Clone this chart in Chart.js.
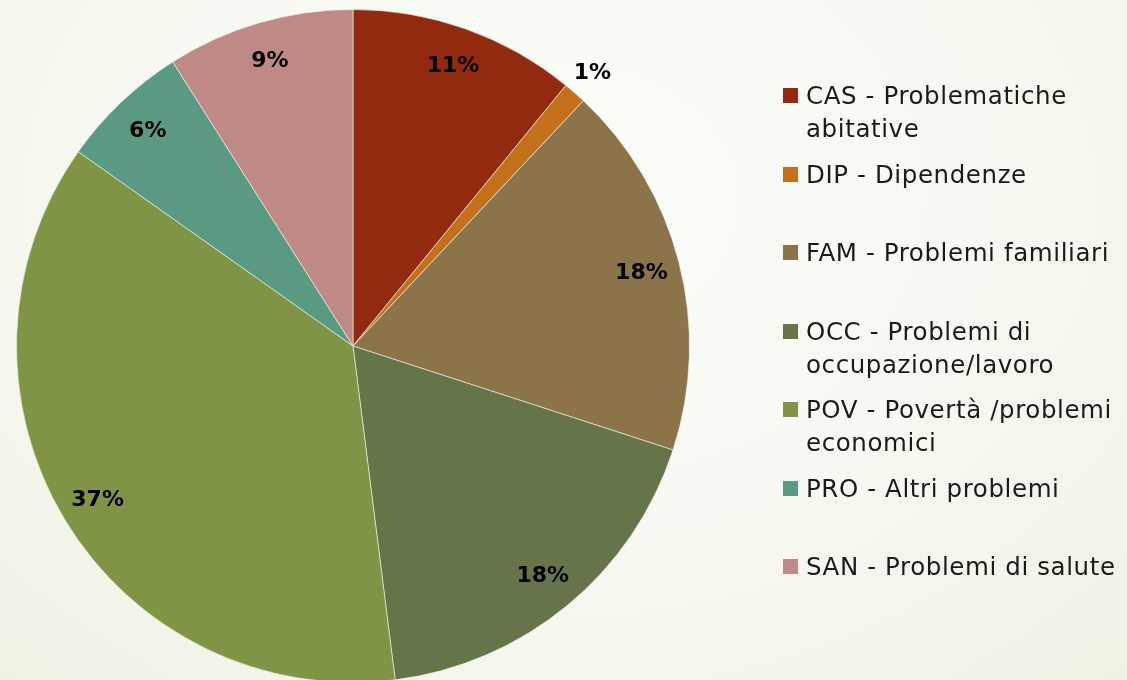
<!DOCTYPE html>
<html>
<head>
<meta charset="utf-8">
<script src="https://cdn.jsdelivr.net/npm/chart.js@4"></script>
<style>
  html, body { margin: 0; padding: 0; width: 1127px; height: 680px; overflow: hidden; }
  body {
    position: relative;
    background: radial-gradient(ellipse 900px 700px at 560px 200px, #fcfdfa 0%, #f6f8f0 55%, #edf0e2 100%);
    font-family: "DejaVu Sans", sans-serif;
  }
  #pie { position: absolute; left: 0; top: 0; }
  #legend { position: absolute; left: 783px; top: 79px; width: 344px; }
  .item { height: 78.5px; display: flex; align-items: flex-start; }
  .box { width: 15px; height: 15px; margin-top: 9px; margin-right: 8px; flex: none; }
  .txt { font-size: 24.5px; letter-spacing: 0.6px; line-height: 33px; color: #1b1b1b; width: 325px; }
</style>
</head>
<body>
<canvas id="pie" width="1127" height="700"></canvas>
<div id="legend"></div>
<script>
// categorie e valori (percentuali)
const categories = [
  "CAS - Problematiche abitative",
  "DIP - Dipendenze",
  "FAM - Problemi familiari",
  "OCC - Problemi di occupazione/lavoro",
  "POV - Povertà /problemi economici",
  "PRO - Altri problemi",
  "SAN - Problemi di salute"
];
const values = [10.9, 1.1, 18.0, 18.0, 36.8, 6.2, 9.0];
const colors = ["#922a0f", "#c4701a", "#8b7449", "#66744a", "#7f9444", "#5b9a82", "#bf8985"];

// etichette percentuali sulle fette
const pctLabels = {
  id: "pctLabels",
  afterDatasetsDraw(chart) {
    const ctx = chart.ctx;
    const meta = chart.getDatasetMeta(0);
    const total = values.reduce((a, b) => a + b, 0);
    ctx.save();
    ctx.font = "bold 22px 'DejaVu Sans'";
    ctx.fillStyle = "#000";
    ctx.textAlign = "center";
    ctx.textBaseline = "middle";
    meta.data.forEach((arc, i) => {
      const p = arc.getProps(["x", "y", "startAngle", "endAngle", "outerRadius"], true);
      const mid = (p.startAngle + p.endAngle) / 2;
      const pct = values[i] / total * 100;
      const r = pct < 3 ? p.outerRadius * 1.08 : p.outerRadius * 0.885;
      ctx.fillText(Math.round(pct) + "%", p.x + Math.cos(mid) * r, p.y + Math.sin(mid) * r + 1);
    });
    ctx.restore();
  }
};

new Chart(document.getElementById("pie"), {
  type: "pie",
  data: {
    labels: categories,
    datasets: [{
      data: values,
      backgroundColor: colors,
      borderColor: "rgba(245,247,238,0.6)",
      borderWidth: 1
    }]
  },
  options: {
    responsive: false,
    animation: false,
    layout: { padding: { left: 16, right: 437, top: 9, bottom: 17 } },
    plugins: { legend: { display: false }, tooltip: { enabled: false } }
  },
  plugins: [pctLabels]
});

// legenda html
const legend = document.getElementById("legend");
categories.forEach((c, i) => {
  const item = document.createElement("div");
  item.className = "item";
  item.innerHTML = `<div class="box" style="background:${colors[i]}"></div><div class="txt">${c}</div>`;
  legend.appendChild(item);
});
</script>
</body>
</html>
